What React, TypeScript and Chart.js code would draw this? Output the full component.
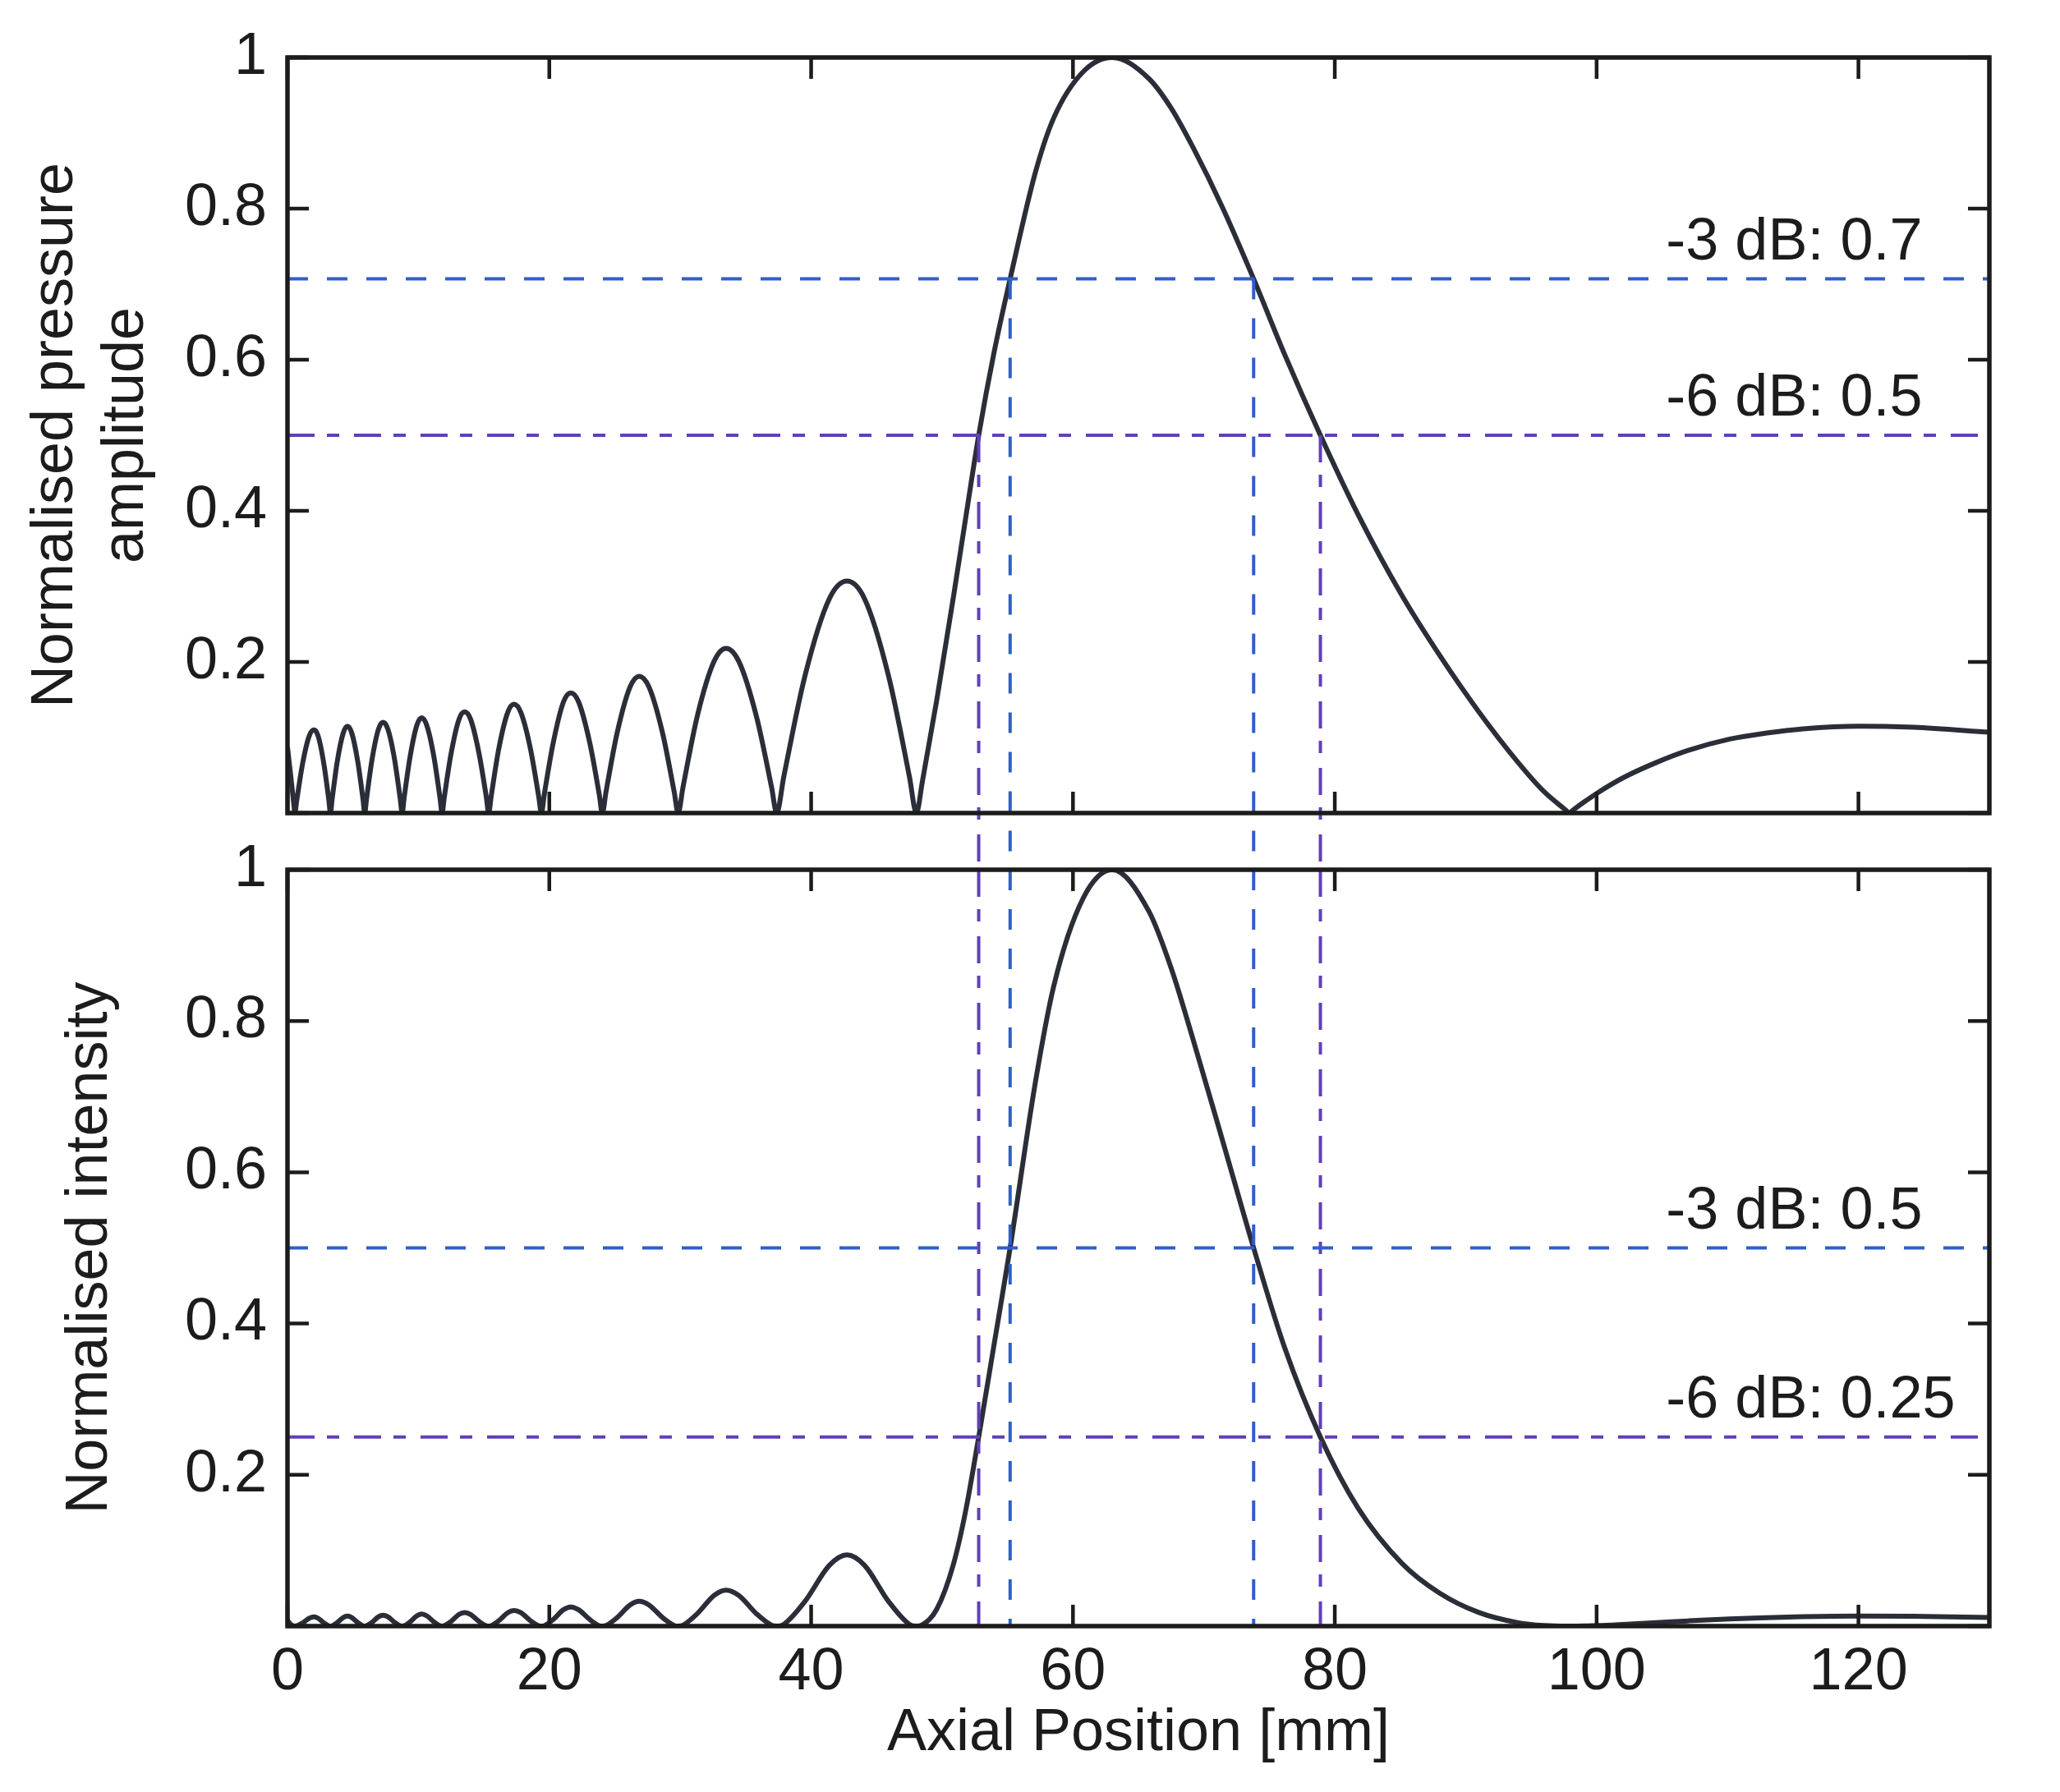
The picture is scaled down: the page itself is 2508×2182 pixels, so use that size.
import { useEffect, useRef } from 'react';
import { Chart, registerables } from 'chart.js';

Chart.register(...registerables);

// on-axis field of the transducer
const axialMm = [
  0, 0.25, 0.5, 0.56,
  0.71, 1.15, 1.66, 2.03, 2.34, 2.78, 3.16, 3.28,
  3.41, 3.8, 4.26, 4.58, 4.91, 5.37, 5.77, 5.9,
  6.04, 6.46, 6.95, 7.3, 7.67, 8.18, 8.61, 8.76,
  8.91, 9.36, 9.88, 10.25, 10.64, 11.19, 11.65, 11.81,
  11.98, 12.5, 13.1, 13.53, 13.99, 14.63, 15.19, 15.37,
  15.56, 16.14, 16.82, 17.3, 17.83, 18.56, 19.19, 19.4,
  19.62, 20.3, 21.08, 21.64, 22.24, 23.09, 23.81, 24.05,
  24.33, 25.18, 26.17, 26.87, 27.61, 28.65, 29.54, 29.84,
  30.21, 31.3, 32.59, 33.5, 34.47, 35.82, 36.98, 37.37,
  37.91, 39.52, 41.4, 42.74, 44.07, 45.92, 47.51, 48.04,
  48.5, 49.6, 50.86, 51.8, 52.8, 54.0, 55.2, 57.13, 58.53, 60.77, 63.0, 65.8, 67.5,
  69.17, 71.41, 73.8, 76.17, 78.9, 81.78, 85.13, 88.0, 91.0, 94.0, 96.0, 97.7, 97.9,
  98.2, 99.2, 100.09, 102, 104.57, 107, 110.17, 113, 115.77, 120, 124.18, 130,
];

const pressureAmplitude = [
  0.087, 0.049, 0.009, 0,
  0.017, 0.065, 0.102, 0.11, 0.102, 0.065, 0.017, 0,
  0.018, 0.068, 0.106, 0.115, 0.106, 0.068, 0.018, 0,
  0.019, 0.071, 0.111, 0.12, 0.111, 0.071, 0.019, 0,
  0.02, 0.074, 0.116, 0.126, 0.116, 0.074, 0.02, 0,
  0.021, 0.079, 0.124, 0.134, 0.124, 0.079, 0.021, 0,
  0.022, 0.085, 0.133, 0.144, 0.133, 0.085, 0.022, 0,
  0.025, 0.093, 0.147, 0.159, 0.147, 0.093, 0.025, 0,
  0.028, 0.106, 0.167, 0.181, 0.167, 0.106, 0.028, 0,
  0.034, 0.128, 0.201, 0.218, 0.201, 0.128, 0.034, 0,
  0.048, 0.181, 0.284, 0.307, 0.284, 0.181, 0.048, 0,
  0.042, 0.15, 0.285, 0.39, 0.5, 0.612, 0.707, 0.848, 0.92, 0.981, 1.0, 0.972, 0.933,
  0.881, 0.802, 0.707, 0.607, 0.5, 0.395, 0.288, 0.209, 0.134, 0.067, 0.028, 0.003, 0,
  0.004, 0.0165, 0.027, 0.0465, 0.067, 0.083, 0.098, 0.106, 0.1115, 0.115, 0.1135, 0.107,
];

const normalisedIntensity = [
  0.0076, 0.0024, 0.0001, 0,
  0.0003, 0.0042, 0.0103, 0.0121, 0.0103, 0.0042, 0.0003, 0,
  0.0003, 0.0046, 0.0113, 0.0132, 0.0113, 0.0046, 0.0003, 0,
  0.0004, 0.005, 0.0123, 0.0144, 0.0123, 0.005, 0.0004, 0,
  0.0004, 0.0055, 0.0136, 0.0159, 0.0136, 0.0055, 0.0004, 0,
  0.0004, 0.0062, 0.0154, 0.018, 0.0154, 0.0062, 0.0004, 0,
  0.0005, 0.0071, 0.0177, 0.0207, 0.0177, 0.0071, 0.0005, 0,
  0.0006, 0.0087, 0.0216, 0.0253, 0.0216, 0.0087, 0.0006, 0,
  0.0008, 0.0113, 0.028, 0.0328, 0.028, 0.0113, 0.0008, 0,
  0.0012, 0.0164, 0.0406, 0.0475, 0.0406, 0.0164, 0.0012, 0,
  0.0023, 0.0325, 0.0805, 0.0942, 0.0805, 0.0325, 0.0023, 0,
  0.0018, 0.0225, 0.0812, 0.152, 0.25, 0.375, 0.5, 0.719, 0.846, 0.962, 1.0, 0.945, 0.87,
  0.776, 0.643, 0.5, 0.368, 0.25, 0.156, 0.083, 0.0437, 0.018, 0.0045, 0.0008, 0, 0,
  0, 0.0003, 0.0007, 0.0022, 0.0045, 0.0069, 0.0096, 0.0112, 0.0124, 0.0132, 0.0129, 0.0114,
];

const axialTicks = [0, 20, 40, 60, 80, 100, 120];
const levelTicks = [0, 0.2, 0.4, 0.6, 0.8, 1];

// -3 dB and -6 dB levels, and where the beam crosses them
const pressureLevels = [0.707, 0.5];
const intensityLevels = [0.5, 0.25];
const pressureLabels = ['-3 dB: 0.7', '-6 dB: 0.5'];
const intensityLabels = ['-3 dB: 0.5', '-6 dB: 0.25'];
const crossings3dB = [55.2, 73.8];
const crossings6dB = [52.8, 78.9];
const labelAtMm = 105.3;

const INK = '#1c1c1c';
const CURVE = '#2b2e38';
const BLUE = '#2f5fc8';
const PURPLE = '#6040b8';
const DASH = [25, 23];
const DASH_DOT = [33, 15, 15, 18];
const FONT = { family: '"Liberation Sans", Arial, sans-serif', size: 72, lineHeight: 1.2 };
const TICK = 26;

const matlabBox = {
  id: 'matlabBox',
  afterDatasetsDraw(chart: any) {
    const { ctx, chartArea: a, scales } = chart;
    ctx.save();
    ctx.strokeStyle = INK;
    ctx.lineWidth = 4.5;
    ctx.beginPath();
    for (const t of axialTicks) {
      const px = scales.x.getPixelForValue(t);
      ctx.moveTo(px, a.bottom);
      ctx.lineTo(px, a.bottom - TICK);
      ctx.moveTo(px, a.top);
      ctx.lineTo(px, a.top + TICK);
    }
    for (const t of levelTicks) {
      const py = scales.y.getPixelForValue(t);
      ctx.moveTo(a.left, py);
      ctx.lineTo(a.left + TICK, py);
      ctx.moveTo(a.right, py);
      ctx.lineTo(a.right - TICK, py);
    }
    ctx.stroke();
    ctx.lineWidth = 5.5;
    ctx.strokeRect(a.left, a.top, a.right - a.left, a.bottom - a.top);
    ctx.restore();
  },
};

const dbLabels = {
  id: 'dbLabels',
  afterDatasetsDraw(chart: any, _args: any, opts: any) {
    const { ctx, scales } = chart;
    ctx.save();
    ctx.fillStyle = INK;
    ctx.font = `${FONT.size}px ${FONT.family}`;
    ctx.textAlign = 'left';
    ctx.textBaseline = 'alphabetic';
    opts.texts.forEach((text: string, i: number) => {
      const x = scales.x.getPixelForValue(opts.at);
      const y = scales.y.getPixelForValue(opts.levels[i]) - 24;
      ctx.fillText(text, x, y);
    });
    ctx.restore();
  },
};

function refLine(points: { x: number; y: number }[], color: string, dash: number[], clip?: boolean) {
  return {
    data: points,
    borderColor: color,
    borderWidth: 4,
    borderDash: dash,
    pointRadius: 0,
    order: 1,
    ...(clip === false ? { clip: false } : {}),
  };
}

function buildConfig(kind: 'pressure' | 'intensity'): any {
  const top = kind === 'pressure';
  const values = top ? pressureAmplitude : normalisedIntensity;
  const levels = top ? pressureLevels : intensityLevels;
  // in the upper panel the drop lines run from the level down through the gap
  const from3 = top ? levels[0] : 1;
  const from6 = top ? levels[1] : 1;
  const to = top ? -0.1 : 0;

  const datasets: any[] = [
    {
      data: axialMm.map((x, i) => ({ x, y: values[i] })),
      borderColor: CURVE,
      borderWidth: 6,
      pointRadius: 0,
      cubicInterpolationMode: 'monotone',
      order: 2,
    },
    refLine([{ x: 0, y: levels[0] }, { x: 130, y: levels[0] }], BLUE, DASH),
    refLine([{ x: 0, y: levels[1] }, { x: 130, y: levels[1] }], PURPLE, DASH_DOT),
    ...crossings3dB.map((x) => refLine([{ x, y: from3 }, { x, y: to }], BLUE, DASH, top ? false : undefined)),
    ...crossings6dB.map((x) => refLine([{ x, y: from6 }, { x, y: to }], PURPLE, DASH_DOT, top ? false : undefined)),
  ];

  return {
    type: 'line',
    data: { datasets },
    plugins: [matlabBox, dbLabels],
    options: {
      responsive: false,
      animation: false,
      devicePixelRatio: 1,
      events: [],
      layout: {
        padding: top
          ? { left: 0, top: 70, right: 86, bottom: 69 }
          : { left: 0, top: 100, right: 86, bottom: 0 },
      },
      plugins: {
        legend: { display: false },
        tooltip: { enabled: false },
        dbLabels: { texts: top ? pressureLabels : intensityLabels, levels, at: labelAtMm },
      },
      scales: {
        x: {
          type: 'linear',
          min: 0,
          max: 130,
          display: !top,
          afterBuildTicks: (s: any) => {
            s.ticks = axialTicks.map((value) => ({ value }));
          },
          afterFit: (s: any) => {
            if (!top) s.height = 202;
          },
          grid: { display: false, drawTicks: false },
          border: { display: false },
          ticks: { color: INK, font: FONT, padding: 14, maxRotation: 0, callback: (v: number) => String(v) },
          title: {
            display: true,
            text: 'Axial Position [mm]',
            color: INK,
            font: FONT,
            padding: { top: 0, bottom: 28 },
          },
        },
        y: {
          type: 'linear',
          min: 0,
          max: 1,
          afterBuildTicks: (s: any) => {
            s.ticks = levelTicks.map((value) => ({ value }));
          },
          afterFit: (s: any) => {
            s.width = 350;
          },
          grid: { display: false, drawTicks: false },
          border: { display: false },
          ticks: {
            color: INK,
            font: FONT,
            padding: 25,
            callback: (v: number) => (v === 0 ? '' : String(v)),
          },
          title: {
            display: true,
            text: top ? ['Normalised pressure', 'amplitude'] : 'Normalised intensity',
            color: INK,
            font: FONT,
            padding: { top: top ? 25 : 67, bottom: 0 },
          },
        },
      },
    },
  };
}

function Panel({ kind, top, height }: { kind: 'pressure' | 'intensity'; top: number; height: number }) {
  const ref = useRef<HTMLCanvasElement | null>(null);

  useEffect(() => {
    if (!ref.current) return;
    const chart = new Chart(ref.current, buildConfig(kind));
    return () => chart.destroy();
  }, [kind]);

  return (
    <canvas
      ref={ref}
      width={2508}
      height={height}
      style={{ position: 'absolute', left: 0, top, width: 2508, height }}
    />
  );
}

export default function App() {
  return (
    <div
      style={{
        position: 'absolute',
        left: 0,
        top: 0,
        width: 2508,
        height: 2182,
        overflow: 'hidden',
        background: '#fff',
      }}
    >
      <Panel kind="pressure" top={0} height={1059} />
      <Panel kind="intensity" top={959} height={1223} />
    </div>
  );
}
